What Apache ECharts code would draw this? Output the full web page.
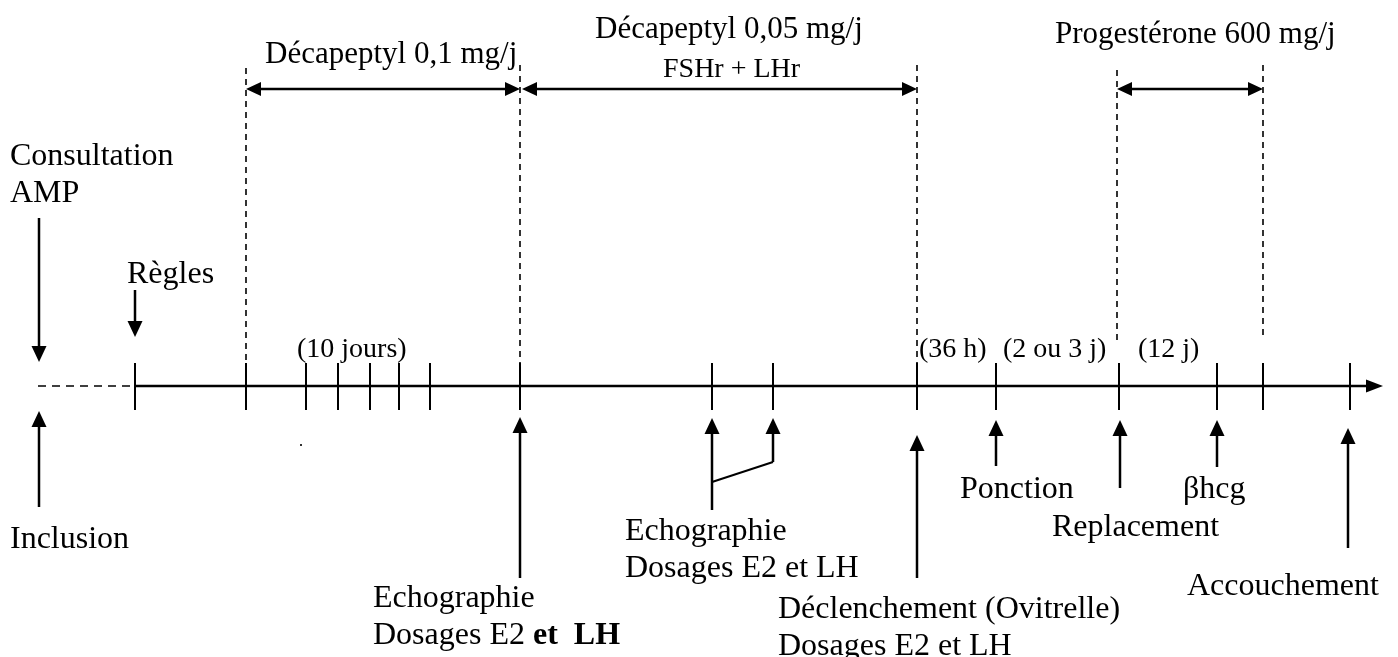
<!DOCTYPE html>
<html><head><meta charset="utf-8">
<script src="https://cdn.jsdelivr.net/npm/echarts@6/dist/echarts.min.js"></script>
<style>html,body{margin:0;padding:0;background:#fff}#c{width:1398px;height:657px}</style>
</head><body><div id="c"></div>
<script>
// ---------------- data (positions along the timeline) ----------------
const timelineSpan = [38, 135, 1383];           // dashed start, solid start, arrow end
const timelineTicks = [135, 246, 306, 338, 370, 399, 430, 520, 712, 773, 917, 996, 1119, 1217, 1263, 1350];
const phaseBounds = [246, 520, 917, 1117, 1263];
const treatmentNames = ['Décapeptyl 0,1 mg/j', 'Décapeptyl 0,05 mg/j', 'Progestérone 600 mg/j'];
const treatmentSub = ['', 'FSHr + LHr', ''];
const treatmentStart = [246, 522, 1117];
const treatmentEnd = [520, 917, 1263];
const eventNames = ['Consultation\nAMP', 'Règles', 'Inclusion', 'Echographie\nDosages E2 {b|et  LH}',
  'Echographie\nDosages E2 et LH', '', 'Déclenchement (Ovitrelle)\nDosages E2 et LH',
  'Ponction', 'Replacement', 'βhcg', 'Accouchement'];
const eventPositions = [39, 135, 39, 520, 712, 773, 917, 996, 1120, 1217, 1348];
const linkedEvents = [[4, 5]];
const durationLabels = ['(10 jours)', '(36 h)', '(2 ou 3 j)', '(12 j)'];
const durationStart = [297, 919, 1003, 1138];

// ---------------- layout (page geometry, styles) ----------------
const L = {
  axisY: 386, tickTop: 363, tickBottom: 410,
  boundTop: [68, 65, 65, 70, 65], boundBottom: [363, 363, 363, 343, 337],
  treatY: 89, treatLabelX: [265, 595, 1055], treatLabelBase: [60, 35, 40], subLabelX: 663, subLabelBase: 75,
  evDir: ['down', 'down', 'up', 'up', 'up', 'up', 'up', 'up', 'up', 'up', 'up'],
  evTip: [362, 337, 411, 417, 418, 418, 435, 420, 420, 420, 428],
  evTail: [218, 290, 507, 578, 510, 462, 578, 466, 488, 467, 548],
  evLabelX: [10, 127, 10, 373, 625, 0, 778, 960, 1052, 1183, 1187],
  evLabelBase: [162, 280, 545, 604, 537, 0, 615, 495, 533, 495, 592],
  evLineGap: 37,
  linkY: [482, 462],
  durBase: 355,
  strayDot: [301, 445]
};
const FONT = '"Liberation Serif", "Times New Roman", serif';
const SZ_MAIN = 32, SZ_TOP = 31, SZ_SMALL = 28;

function txt(x, base, str, size, rich) {
  const st = {
    x: x, y: base - 0.18 * size, text: str, font: size + 'px ' + FONT, fill: '#000',
    align: 'left', verticalAlign: 'middle', textAlign: 'left', textVerticalAlign: 'middle'
  };
  if (rich) st.rich = rich;
  return { type: 'text', style: st };
}
function line(a, b, w, dash) {
  return { type: 'line', shape: { x1: a[0], y1: a[1], x2: b[0], y2: b[1] },
    style: { stroke: '#000', lineWidth: w, lineDash: dash || null } };
}
function poly(pts) { return { type: 'polygon', shape: { points: pts }, style: { fill: '#000' } }; }

const chart = echarts.init(document.getElementById('c'), null, { renderer: 'canvas' });

const series = [
  { // main timeline
    type: 'custom', data: [timelineSpan],
    renderItem: function (params, api) {
      const p0 = api.coord([api.value(0), L.axisY]);
      const p1 = api.coord([api.value(1), L.axisY]);
      const p2 = api.coord([api.value(2), L.axisY]);
      return { type: 'group', children: [
        line(p0, p1, 1.5, [8, 6]),
        line(p1, [p2[0] - 14, p2[1]], 2.5),
        poly([[p2[0], p2[1]], [p2[0] - 17, p2[1] - 6.5], [p2[0] - 17, p2[1] + 6.5]])
      ] };
    }
  },
  { // ticks
    type: 'custom', data: timelineTicks.map(v => [v]),
    renderItem: function (params, api) {
      const x = api.value(0);
      return line(api.coord([x, L.tickTop]), api.coord([x, L.tickBottom]), 2);
    }
  },
  { // dashed phase boundaries
    type: 'custom', data: phaseBounds.map(v => [v]),
    renderItem: function (params, api) {
      const x = api.value(0), i = params.dataIndex;
      return line(api.coord([x, L.boundTop[i]]), api.coord([x, L.boundBottom[i]]), 1.6, [6, 5]);
    }
  },
  { // treatment periods
    type: 'custom', data: treatmentStart.map((s, i) => [s, treatmentEnd[i]]),
    renderItem: function (params, api) {
      const i = params.dataIndex;
      const a = api.coord([api.value(0), L.treatY]);
      const b = api.coord([api.value(1), L.treatY]);
      const y = a[1], h = 15, w = 7;
      const ch = [
        line([a[0] + 12, y], [b[0] - 12, y], 2.5),
        poly([[a[0], y], [a[0] + h, y - w], [a[0] + h, y + w]]),
        poly([[b[0], y], [b[0] - h, y - w], [b[0] - h, y + w]])
      ];
      const lp = api.coord([L.treatLabelX[i], L.treatLabelBase[i]]);
      ch.push(txt(lp[0], lp[1], treatmentNames[i], SZ_TOP));
      if (treatmentSub[i]) {
        const sp = api.coord([L.subLabelX, L.subLabelBase]);
        ch.push(txt(sp[0], sp[1], treatmentSub[i], SZ_SMALL));
      }
      return { type: 'group', children: ch };
    }
  },
  { // events
    type: 'custom', data: eventPositions.map(v => [v]),
    renderItem: function (params, api) {
      const i = params.dataIndex, x = api.value(0);
      const tip = api.coord([x, L.evTip[i]]);
      const tail = api.coord([x, L.evTail[i]]);
      const h = 16, w = 7.5, s = L.evDir[i] === 'up' ? 1 : -1;
      const ch = [
        line([tip[0], tip[1] + s * (h - 2)], tail, 2.5),
        poly([[tip[0], tip[1]], [tip[0] - w, tip[1] + s * h], [tip[0] + w, tip[1] + s * h]])
      ];
      if (eventNames[i]) {
        eventNames[i].split('\n').forEach((ln, k) => {
          const p = api.coord([L.evLabelX[i], L.evLabelBase[i] + k * L.evLineGap]);
          ch.push(txt(p[0], p[1], ln, SZ_MAIN, { b: { font: 'bold ' + SZ_MAIN + 'px ' + FONT, fill: '#000' } }));
        });
      }
      return { type: 'group', children: ch };
    }
  },
  { // link between the two echography arrows
    type: 'custom', data: linkedEvents.map(p => [eventPositions[p[0]], eventPositions[p[1]]]),
    renderItem: function (params, api) {
      return line(api.coord([api.value(0), L.linkY[0]]), api.coord([api.value(1), L.linkY[1]]), 2);
    }
  },
  { // durations
    type: 'custom', data: durationStart.map(v => [v]),
    renderItem: function (params, api) {
      const p = api.coord([api.value(0), L.durBase]);
      return txt(p[0], p[1], durationLabels[params.dataIndex], SZ_SMALL);
    }
  },
  { // stray dot in the source figure
    type: 'scatter', data: [L.strayDot], symbol: 'rect', symbolSize: 2,
    itemStyle: { color: '#000' }
  }
];

chart.setOption({
  animation: false,
  backgroundColor: '#fff',
  grid: { left: 0, right: 0, top: 0, bottom: 0 },
  xAxis: { type: 'value', min: 0, max: 1398, show: false },
  yAxis: { type: 'value', min: 0, max: 657, inverse: true, show: false },
  series: series.map(s => Object.assign({ silent: true, clip: false }, s))
});
</script></body></html>
